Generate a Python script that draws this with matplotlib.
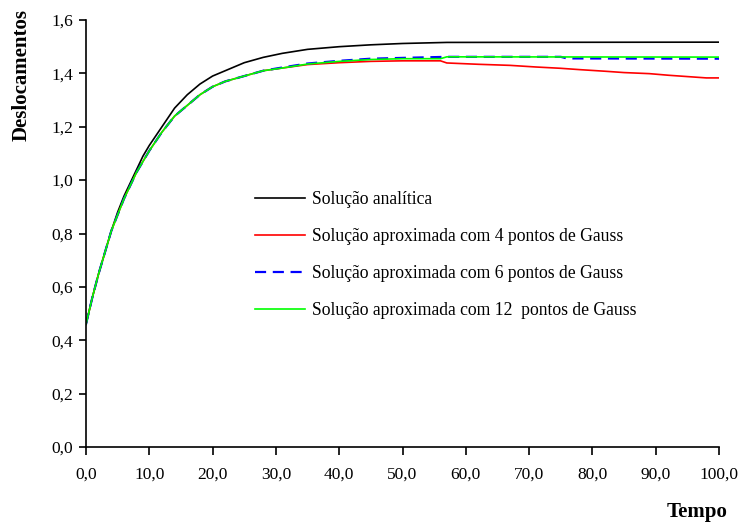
import matplotlib
matplotlib.use("Agg")
import matplotlib.pyplot as plt
from matplotlib.ticker import FuncFormatter, MultipleLocator

plt.rcParams['font.family'] = ['Liberation Serif', 'DejaVu Serif']

# tempo / deslocamento de cada solução
t_analitica = [0, 1, 2, 3, 4, 5, 6, 7, 8, 9, 10, 12, 14, 16, 18, 20, 22, 25, 28,
               31, 35, 40, 45, 50, 57, 100]
u_analitica = [0.46, 0.56, 0.65, 0.73, 0.81, 0.88, 0.94, 0.99, 1.04, 1.09, 1.13,
               1.20, 1.27, 1.32, 1.36, 1.39, 1.41, 1.44, 1.46, 1.475, 1.49, 1.50,
               1.507, 1.512, 1.516, 1.517]

t_gauss4 = [0, 1, 2, 3, 4, 5, 6, 7, 8, 9, 10, 12, 14, 16, 18, 20, 22, 25, 28,
            31, 35, 40, 45, 50, 56, 57, 62, 67, 71, 75, 78, 82, 85, 89, 92, 95,
            98, 100]
u_gauss4 = [0.46, 0.56, 0.65, 0.73, 0.81, 0.87, 0.93, 0.98, 1.03, 1.07, 1.11,
            1.18, 1.24, 1.28, 1.32, 1.35, 1.37, 1.39, 1.41, 1.42, 1.433, 1.44,
            1.445, 1.447, 1.447, 1.439, 1.434, 1.430, 1.424, 1.419, 1.414, 1.408,
            1.403, 1.399, 1.393, 1.388, 1.383, 1.383]

t_gauss6 = [0, 1, 2, 3, 4, 5, 6, 7, 8, 9, 10, 12, 14, 16, 18, 20, 22, 25, 28,
            31, 35, 40, 45, 50, 57, 75, 76, 100]
u_gauss6 = [0.46, 0.56, 0.65, 0.73, 0.81, 0.87, 0.93, 0.98, 1.03, 1.07, 1.11,
            1.18, 1.24, 1.28, 1.32, 1.35, 1.37, 1.39, 1.41, 1.422, 1.437, 1.447,
            1.455, 1.458, 1.462, 1.462, 1.456, 1.455]

t_gauss12 = [0, 1, 2, 3, 4, 5, 6, 7, 8, 9, 10, 12, 14, 16, 18, 20, 22, 25, 28,
             31, 35, 40, 45, 50, 56, 57, 100]
u_gauss12 = [0.46, 0.56, 0.65, 0.73, 0.81, 0.87, 0.93, 0.98, 1.03, 1.07, 1.11,
             1.18, 1.24, 1.28, 1.32, 1.35, 1.37, 1.39, 1.41, 1.42, 1.435, 1.445,
             1.452, 1.455, 1.455, 1.462, 1.461]

fig = plt.figure(figsize=(7.41, 5.24), dpi=100)
ax = fig.add_axes([86 / 741, 77 / 524, 633 / 741, 427 / 524])

ax.plot(t_analitica, u_analitica, color='black', lw=1.2,
        label='Solução analítica')
ax.plot(t_gauss4, u_gauss4, color='#ff0000', lw=1.2,
        label='Solução aproximada com 4 pontos de Gauss')
ax.plot(t_gauss6, u_gauss6, color='#0000ff', lw=1.6, dashes=(5, 3),
        label='Solução aproximada com 6 pontos de Gauss')
ax.plot(t_gauss12, u_gauss12, color='#00ff00', lw=1.2,
        label='Solução aproximada com 12  pontos de Gauss')

ax.set_xlim(0, 100)
ax.set_ylim(0, 1.6)
ax.xaxis.set_major_locator(MultipleLocator(10))
ax.yaxis.set_major_locator(MultipleLocator(0.2))
comma = FuncFormatter(lambda v, p: f"{v:.1f}".replace('.', ','))
ax.xaxis.set_major_formatter(comma)
ax.yaxis.set_major_formatter(comma)

for side in ('top', 'right'):
    ax.spines[side].set_visible(False)
for side in ('left', 'bottom'):
    ax.spines[side].set_linewidth(1.2)
ax.tick_params(axis='x', direction='out', length=6, width=1.2, pad=8,
               labelsize=12.5)
ax.tick_params(axis='y', direction='out', length=5, width=1.2, pad=4,
               labelsize=12.5)

fig.text(22 / 741, 1 - 75 / 524, 'Deslocamentos', rotation=90, fontsize=15,
         fontweight='bold', ha='center', va='center')
fig.text(697 / 741, 1 - 512 / 524, 'Tempo', fontsize=15, fontweight='bold',
         ha='center', va='center')

ax.legend(loc='upper left', bbox_to_anchor=((255 - 86) / 633, (447 - 191) / 427),
          frameon=False, fontsize=12.7, handlelength=2.85, handletextpad=0.4,
          labelspacing=1.13, borderpad=0, borderaxespad=0)

fig.savefig('out.png', dpi=100)
